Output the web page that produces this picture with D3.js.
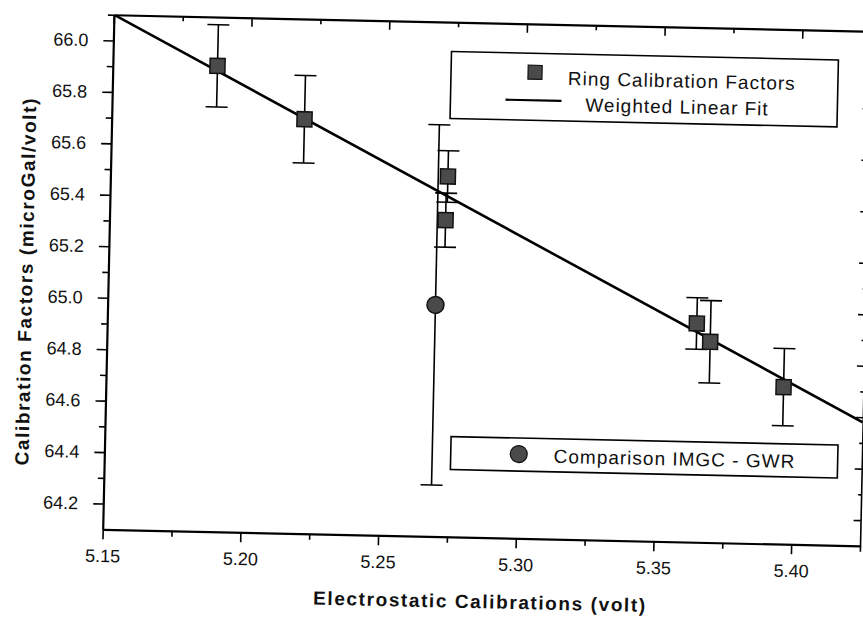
<!DOCTYPE html>
<html>
<head>
<meta charset="utf-8">
<script src="https://cdn.jsdelivr.net/npm/d3@7"></script>
<style>
  body { margin: 0; background: #fff; }
  svg { display: block; font-family: "Liberation Sans", Arial, sans-serif; }
</style>
</head>
<body>
<div id="chart"></div>
<script>
// ring calibration factors (squares)
const ringX = [5.188, 5.220, 5.2725, 5.2720, 5.364, 5.369, 5.396];
const ringY = [65.91, 65.71, 65.50, 65.33, 64.95, 64.88, 64.71];
const ringErr = [0.16, 0.17, 0.10, 0.105, 0.10, 0.16, 0.15];

// comparison IMGC - GWR (circle)
const gwrX = [5.269];
const gwrY = [65.00];
const gwrErr = [0.70];

// weighted linear fit end points
const fitX = [5.15, 5.425];
const fitY = [66.10, 64.58];

const xTicks = [5.15, 5.20, 5.25, 5.30, 5.35, 5.40];
const xMinor = [5.175, 5.225, 5.275, 5.325, 5.375, 5.425];
const yTicks = [64.2, 64.4, 64.6, 64.8, 65.0, 65.2, 65.4, 65.6, 65.8, 66.0];
const yMinor = [64.3, 64.5, 64.7, 64.9, 65.1, 65.3, 65.5, 65.7, 65.9, 66.1];

const width = 863, height = 618;
const pLeft = 102.7, pRight = 860.2, pTop = 14.6, pBottom = 529.3;

const svg = d3.select('#chart').append('svg')
  .attr('width', width)
  .attr('height', height)
  .style('background-color', 'white');

// the scanned figure sits slightly tilted
const g = svg.append('g')
  .attr('transform', `rotate(1.25, ${pLeft}, ${pBottom})`);

const x = d3.scaleLinear().domain([5.15, 5.425]).range([pLeft, pRight]);
const y = d3.scaleLinear().domain([64.1, 66.1]).range([pBottom, pTop]);

function styleAxis(sel, w) {
  sel.select('.domain').attr('stroke', '#000').attr('stroke-width', w);
  sel.selectAll('.tick line').attr('stroke', '#000').attr('stroke-width', 1.6);
  sel.selectAll('.tick text').attr('fill', '#111').attr('font-size', 18)
    .attr('font-family', '"Liberation Sans", Arial, sans-serif');
}

// bottom
g.append('g').attr('transform', `translate(0,${pBottom})`)
  .call(d3.axisBottom(x).tickValues(xTicks).tickSize(10).tickSizeOuter(0)
    .tickPadding(10).tickFormat(d3.format('.2f')))
  .call(s => styleAxis(s, 2.2));
g.append('g').attr('transform', `translate(0,${pBottom})`)
  .call(d3.axisBottom(x).tickValues(xMinor).tickSize(6).tickSizeOuter(0).tickFormat(''))
  .call(s => styleAxis(s, 0));

// left
g.append('g').attr('transform', `translate(${pLeft},0)`)
  .call(d3.axisLeft(y).tickValues(yTicks).tickSize(10).tickSizeOuter(0)
    .tickPadding(15).tickFormat(d3.format('.1f')))
  .call(s => styleAxis(s, 2.2));
g.append('g').attr('transform', `translate(${pLeft},0)`)
  .call(d3.axisLeft(y).tickValues(yMinor).tickSize(6).tickSizeOuter(0).tickFormat(''))
  .call(s => styleAxis(s, 0));

// top (ticks inward)
g.append('g').attr('transform', `translate(0,${pTop})`)
  .call(d3.axisTop(x).tickValues(xTicks).tickSize(-9).tickSizeOuter(0).tickFormat(''))
  .call(s => styleAxis(s, 2.2));
g.append('g').attr('transform', `translate(0,${pTop})`)
  .call(d3.axisTop(x).tickValues(xMinor).tickSize(-5).tickSizeOuter(0).tickFormat(''))
  .call(s => styleAxis(s, 0));

// right (ticks inward)
g.append('g').attr('transform', `translate(${pRight},0)`)
  .call(d3.axisRight(y).tickValues(yTicks).tickSize(-7).tickSizeOuter(0).tickFormat(''))
  .call(s => styleAxis(s, 1.6));
g.append('g').attr('transform', `translate(${pRight},0)`)
  .call(d3.axisRight(y).tickValues(yMinor).tickSize(-3).tickSizeOuter(0).tickFormat(''))
  .call(s => styleAxis(s, 0));

// axis titles
g.append('text')
  .attr('x', (pLeft + pRight) / 2)
  .attr('y', 600)
  .attr('text-anchor', 'middle')
  .attr('font-size', 19)
  .attr('font-weight', 'bold')
  .attr('letter-spacing', 1.6)
  .attr('fill', '#111')
  .text('Electrostatic Calibrations (volt)');

g.append('text')
  .attr('transform', `translate(27,${(pTop + pBottom) / 2 + 11}) rotate(-90)`)
  .attr('text-anchor', 'middle')
  .attr('font-size', 19)
  .attr('font-weight', 'bold')
  .attr('letter-spacing', 1.6)
  .attr('fill', '#111')
  .text('Calibration Factors (microGal/volt)');

// fit line
g.append('clipPath').attr('id', 'plotclip')
  .append('rect').attr('x', pLeft).attr('y', pTop)
  .attr('width', pRight - pLeft).attr('height', pBottom - pTop);

g.append('path')
  .datum(fitX.map((d, i) => [d, fitY[i]]))
  .attr('clip-path', 'url(#plotclip)')
  .attr('fill', 'none')
  .attr('stroke', '#000')
  .attr('stroke-width', 2.6)
  .attr('d', d3.line().x(d => x(d[0])).y(d => y(d[1])));

// error bars
function errorBars(xs, ys, es) {
  const pts = xs.map((d, i) => ({ x: d, y: ys[i], e: es[i] }));
  const eb = g.append('g').attr('stroke', '#000').attr('stroke-width', 1.6);
  eb.selectAll('line.v').data(pts).enter().append('line')
    .attr('x1', d => x(d.x)).attr('x2', d => x(d.x))
    .attr('y1', d => y(d.y + d.e)).attr('y2', d => y(d.y - d.e));
  eb.selectAll('line.top').data(pts).enter().append('line')
    .attr('x1', d => x(d.x) - 11).attr('x2', d => x(d.x) + 11)
    .attr('y1', d => y(d.y + d.e)).attr('y2', d => y(d.y + d.e));
  eb.selectAll('line.bot').data(pts).enter().append('line')
    .attr('x1', d => x(d.x) - 11).attr('x2', d => x(d.x) + 11)
    .attr('y1', d => y(d.y - d.e)).attr('y2', d => y(d.y - d.e));
}
errorBars(gwrX, gwrY, gwrErr);
errorBars(ringX, ringY, ringErr);

// markers
g.selectAll('rect.ring')
  .data(ringX.map((d, i) => [d, ringY[i]]))
  .enter().append('rect')
  .attr('x', d => x(d[0]) - 7.5)
  .attr('y', d => y(d[1]) - 7.5)
  .attr('width', 15).attr('height', 15)
  .attr('fill', '#4a4a4a')
  .attr('stroke', '#111')
  .attr('stroke-width', 1.5);

g.selectAll('circle.gwr')
  .data(gwrX.map((d, i) => [d, gwrY[i]]))
  .enter().append('circle')
  .attr('cx', d => x(d[0]))
  .attr('cy', d => y(d[1]))
  .attr('r', 8.5)
  .attr('fill', '#4a4a4a')
  .attr('stroke', '#111')
  .attr('stroke-width', 1.5);

// legend 1
const lg1 = g.append('g');
lg1.append('rect').attr('x', 441).attr('y', 44).attr('width', 387).attr('height', 67)
  .attr('fill', 'white').attr('stroke', '#000').attr('stroke-width', 1.6);
lg1.append('rect').attr('x', 518).attr('y', 56).attr('width', 14).attr('height', 14)
  .attr('fill', '#4a4a4a').attr('stroke', '#111').attr('stroke-width', 1.2);
lg1.append('text').attr('x', 558).attr('y', 75).attr('font-size', 19)
  .attr('letter-spacing', 1).attr('fill', '#111').text('Ring Calibration Factors');
lg1.append('line').attr('x1', 496).attr('x2', 552).attr('y1', 91).attr('y2', 91)
  .attr('stroke', '#000').attr('stroke-width', 2.2);
lg1.append('text').attr('x', 576).attr('y', 101).attr('font-size', 19)
  .attr('letter-spacing', 1).attr('fill', '#111').text('Weighted Linear Fit');

// legend 2
const lg2 = g.append('g');
lg2.append('rect').attr('x', 449).attr('y', 429).attr('width', 387).attr('height', 33)
  .attr('fill', 'white').attr('stroke', '#000').attr('stroke-width', 1.6);
lg2.append('circle').attr('cx', 517).attr('cy', 445).attr('r', 8.5)
  .attr('fill', '#4a4a4a').attr('stroke', '#111').attr('stroke-width', 1.2);
lg2.append('text').attr('x', 552).attr('y', 453).attr('font-size', 19)
  .attr('letter-spacing', 1).attr('fill', '#111').text('Comparison IMGC - GWR');
</script>
</body>
</html>
